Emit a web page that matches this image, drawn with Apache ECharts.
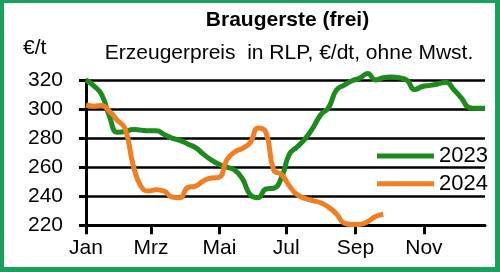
<!DOCTYPE html>
<html><head><meta charset="utf-8">
<script src="https://cdn.jsdelivr.net/npm/echarts@6/dist/echarts.min.js"></script>
<style>html,body{margin:0;padding:0;background:#fff}#c{width:500px;height:272px}</style>
</head><body><div id="c"></div>
<script>
// Weekly producer prices, malting barley (Braugerste), €/t, week index 0..51
const values2023 = [320,316,310,295,284,284.5,286,285.5,285,285,282.5,280,278.5,276,273.5,269,265,262,260,258,252,241,239,245,245.5,253,269,274,279.5,287,296,301,313,316.5,319.5,321.3,324.5,320,321.6,322,321.5,320,313.5,315.5,316.3,317.3,318.5,313.5,307.5,301,300.6,300.6];
const values2024 = [302.8,302,302.5,298.5,292.3,286.5,262,247,243.6,244.5,243.5,239.5,239,246,247,250.5,252.5,253,265,270.5,273,277,287,284,258,255,247,241,238.5,237,235.5,232.5,228,221.5,220.6,220.6,222.5,226,227.6];
const seriesNames = ['2023','2024'];
const monthTickWeeks = [0, 8.31, 17.05, 25.58, 34.44, 43.19];
const monthLabels = ['Jan','Mrz','Mai','Jul','Sep','Nov'];
const yTicks = [220,240,260,280,300,320];

const toPairs = arr => arr.map((v,i)=>[i,v]);
const FONT = 'Liberation Sans, Arial, sans-serif';
const chart = echarts.init(document.getElementById('c'), null, {renderer:'canvas'});
chart.setOption({
  animation:false,
  backgroundColor:'#fff',
  textStyle:{fontFamily:FONT},
  grid:{left:86, right:15, top:80, bottom:46.7, containLabel:false},
  xAxis:{
    type:'value', min:0, max:51,
    axisLine:{show:true, lineStyle:{color:'#000', width:3}},
    axisTick:{show:true, customValues:monthTickWeeks, length:9, lineStyle:{color:'#000', width:3}},
    axisLabel:{customValues:monthTickWeeks, margin:12, color:'#000', fontSize:21, fontFamily:FONT,
      formatter:function(v){let best=0;for(let i=0;i<monthTickWeeks.length;i++){if(Math.abs(monthTickWeeks[i]-v)<Math.abs(monthTickWeeks[best]-v))best=i;}return monthLabels[best];}},
    splitLine:{show:false}
  },
  yAxis:{
    type:'value', min:yTicks[0], max:yTicks[yTicks.length-1], interval:20,
    axisLine:{show:true, lineStyle:{color:'#000', width:3}},
    axisTick:{show:true, length:7, lineStyle:{color:'#000', width:3}},
    axisLabel:{margin:23, color:'#000', fontSize:21, fontFamily:FONT},
    splitLine:{show:true, lineStyle:{color:'#000', width:2.5}}
  },
  legend:{
    orient:'vertical', left:377, top:145, padding:0, itemWidth:57, itemHeight:5, itemGap:5.7,
    icon:'rect', data:seriesNames,
    textStyle:{fontSize:22, lineHeight:22, color:'#000', fontFamily:FONT}
  },
  series:[
    {name:seriesNames[0], type:'line', data:toPairs(values2023), smooth:0.5, showSymbol:false, clip:false,
      lineStyle:{color:'#1c8a1c', width:5}, itemStyle:{color:'#1c8a1c'}},
    {name:seriesNames[1], type:'line', data:toPairs(values2024), smooth:0.5, showSymbol:false, clip:false,
      lineStyle:{color:'#f07e22', width:5}, itemStyle:{color:'#f07e22'}}
  ],
  graphic:[
    {type:'text', x:287.5, y:10, style:{text:'Braugerste (frei)', font:'bold 21px '+FONT, fill:'#000', align:'center', verticalAlign:'top'}},
    {type:'text', x:289, y:43, style:{text:'Erzeugerpreis  in RLP, €/dt, ohne Mwst.', font:'21px '+FONT, fill:'#000', align:'center', verticalAlign:'top'}},
    {type:'text', x:23, y:38, style:{text:'€/t', font:'21px '+FONT, fill:'#000', align:'left', verticalAlign:'top'}},
    {type:'rect', shape:{x:0.5, y:-0.5, width:498, height:271}, style:{fill:'none', stroke:'#19a05a', lineWidth:7}, z:100}
  ]
});
</script></body></html>
